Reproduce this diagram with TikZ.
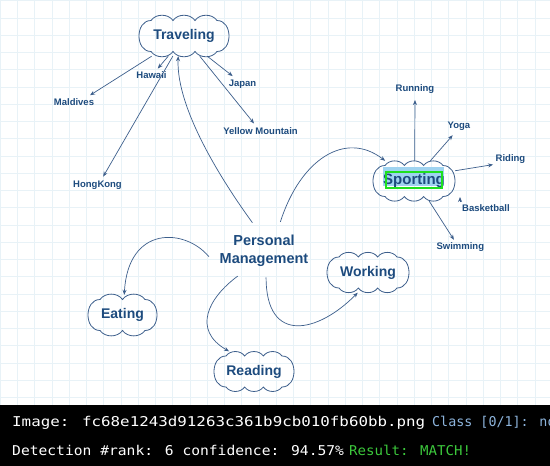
\documentclass[tikz,border=0pt]{standalone}
\usepackage{graphicx}
\usepackage{fontspec}
\setmainfont{Liberation Sans}
\newfontfamily\barfont{DejaVu Sans Mono}
\usetikzlibrary{arrows.meta}
\definecolor{mmtext}{HTML}{1D4B7E}
\definecolor{mmline}{HTML}{3D5F8C}
\definecolor{mmgrid}{HTML}{E8F2F7}
\definecolor{mmsel}{HTML}{9FD3F0}
\definecolor{mmgreen}{HTML}{1EE01E}
\definecolor{barblue}{HTML}{8DB4DC}
\definecolor{bargreen}{HTML}{3CC83C}
\newcommand{\mmcloud}[4]{%
  \pgfmathsetmacro{\cldcs}{#2-12}%
  \pgfmathsetmacro{\cldcx}{#2+4}%
  \pgfmathsetmacro{\cldbw}{2*\cldcs/#4}%
  \begin{scope}[shift={(#1.center)}]
    \draw[cloudline] (-\cldcs,-#3) .. controls (-\cldcx,-#3) and (-\cldcx,#3) .. (-\cldcs,#3)
      \foreach \i in {1,...,#4}{ to[bend right=55] ++(\cldbw,0) }
      .. controls (\cldcx,#3) and (\cldcx,-#3) .. (\cldcs,-#3)
      \foreach \i in {1,...,#4}{ to[bend right=55] ++(-\cldbw,0) };
  \end{scope}}
\begin{document}
\begin{tikzpicture}[x=1pt,y=-1pt,
    gridline/.style={draw=mmgrid,line width=0.5pt},
    cloudline/.style={draw=mmline,line width=0.8pt},
    cloudnode/.style={minimum height=40pt,inner sep=0pt,text=mmtext,font=\fontsize{14}{16}\selectfont\bfseries,text height=10pt,text depth=3pt},
    leaf/.style={text=mmtext,font=\fontsize{9.5}{11}\selectfont\bfseries,inner sep=2pt,text height=7pt,text depth=2pt},
    arr/.style={draw=mmline,line width=0.7pt,-{Stealth[length=5pt,width=4pt]}},
    bartext/.style={font=\barfont\fontsize{13.5}{16}\selectfont,inner sep=0pt,anchor=base west,text=white}]
    \useasboundingbox (0,0) rectangle (550,466);
    \fill[white] (0,0) rectangle (550,405);
    \foreach \gx in {0,17.25,...,550} \draw[gridline] (\gx,0) -- (\gx,405);
    \foreach \gy in {0.5,17.75,...,405} \draw[gridline] (0,\gy) -- (550,\gy);
    \fill[mmsel] (383,167) rectangle (444,186);

    \node[cloudnode,minimum width=90pt] (trav) at (184,36) {Traveling};
    \node[cloudnode,minimum width=82pt,font=\fontsize{15}{17}\selectfont\bfseries] (spo) at (414,181) {Sporting};
    \node[cloudnode,minimum width=69pt] (eat) at (122.5,315) {Eating};
    \node[cloudnode,minimum width=80pt] (read) at (254,371.5) {Reading};
    \node[cloudnode,minimum width=82pt] (work) at (368,272.5) {Working};
    \node[text=mmtext,font=\fontsize{14.5}{17.6}\selectfont\bfseries,align=center,inner sep=8pt] (pm) at (264,250.5) {Personal\\Management};
    \mmcloud{trav}{45}{15.5}{3}
    \mmcloud{spo}{41}{15.5}{3}
    \mmcloud{eat}{34.5}{15.5}{2}
    \mmcloud{read}{40}{15.5}{3}
    \mmcloud{work}{41}{15.5}{3}
    \draw[mmgreen,line width=2pt] (386,171.5) rectangle (442,187.5);

    \node[leaf] (hawaii) at (151.5,76) {Hawaii};
    \node[leaf] (mald) at (74,103) {Maldives};
    \node[leaf] (japan) at (242.5,84) {Japan};
    \node[leaf] (yellow) at (260.5,131.7) {Yellow Mountain};
    \node[leaf] (hk) at (97.5,185) {HongKong};
    \node[leaf] (run) at (415,89.3) {Running};
    \node[leaf] (yoga) at (459,126.3) {Yoga};
    \node[leaf] (riding) at (510.5,158.7) {Riding};
    \node[leaf] (bask) at (486,208.7) {Basketball};
    \node[leaf] (swim) at (460.3,247.3) {Swimming};

    \draw[arr,shorten >=2pt] (trav.212) -- (mald.25);
    \draw[arr,shorten >=1pt] (trav.232) -- (hawaii.50);
    \draw[arr,shorten >=2pt] (trav.241) -- (hk.55);
    \draw[arr,shorten >=2pt] (trav.319) -- (japan.141);
    \draw[arr,shorten >=2pt] (trav.308) -- (yellow.128);
    \draw[arr,shorten >=4pt] (spo.88) -- (run.south);
    \draw[arr,shorten >=3pt] (spo.51) -- (yoga.237);
    \draw[arr,shorten >=0.5pt] (spo.14) -- (riding.199);
    \draw[arr] (bask.north west) -- ([yshift=5pt]bask.north west);
    \draw[arr,shorten >=1pt] (spo.307) -- (swim.131);

    \draw[arr,shorten <=5pt] (pm.110) .. controls (225,185) and (176,110) .. (trav.254);
    \draw[arr,shorten <=5pt] (pm.58) .. controls (300,160) and (345,130) .. (spo.145);
    \draw[arr,shorten <=4pt] (pm.190) .. controls (185,228) and (128,225) .. (eat.85);
    \draw[arr,shorten <=3pt] (pm.225) .. controls (208,298) and (192,330) .. (read.141);
    \draw[arr,shorten <=3pt] (pm.275) .. controls (266,345) and (318,333) .. (work.243);

    \fill[black] (0,405) rectangle (550,466);
    \begin{scope}
        \clip (0,405) rectangle (550,466);
        \node[bartext] (imgline) at (12,426) {\scalebox{1.173}[1]{Image: fc68e1243d91263c361b9cb010fb60bb.png}};
        \node[bartext,text=barblue] (classline) at (432,426) {\scalebox{0.99}[1]{Class [0/1]: no}};
        \node[bartext] (detline) at (12,455) {\scalebox{1.084}[1]{Detection \#rank: 6 confidence: 94.57\%}};
        \node[bartext,text=bargreen] (resline) at (349,455) {\scalebox{1.046}[1]{Result: MATCH!}};
    \end{scope}
\end{tikzpicture}
\end{document}
